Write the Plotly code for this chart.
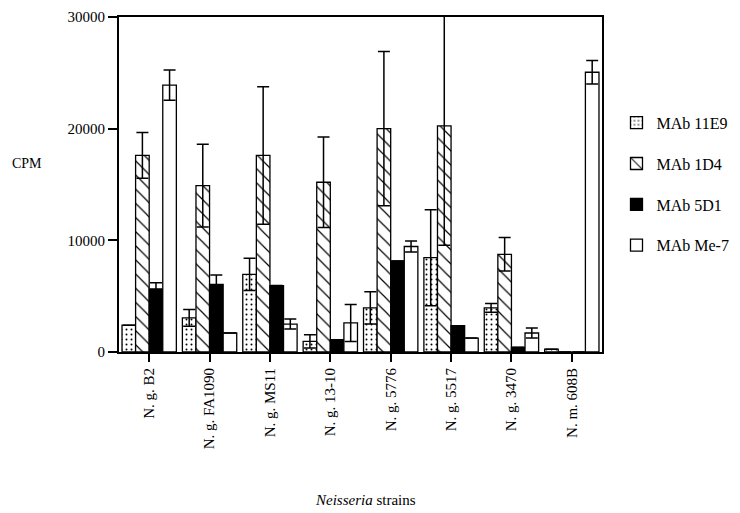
import plotly.graph_objects as go

strains = ["N. g. B2", "N. g. FA1090", "N. g. MS11", "N. g. 13-10",
           "N. g. 5776", "N. g. 5517", "N. g. 3470", "N. m. 608B"]

mab_11e9 = [2400, 3050, 6950, 950, 3950, 8450, 3950, 250]
err_11e9 = [None, 750, 1450, 600, 1450, 4300, 400, None]
mab_1d4 = [17600, 14900, 17600, 15200, 20000, 20250, 8750, 0]
err_1d4 = [2050, 3700, 6150, 4050, 6900, 10700, 1500, None]
mab_5d1 = [5650, 6050, 5950, 1100, 8150, 2350, 420, 0]
err_5d1 = [550, 850, None, None, None, None, None, None]
mab_me7 = [23900, 1700, 2500, 2600, 9450, 1250, 1700, 25050]
err_me7 = [1350, None, 450, 1650, 500, None, 450, 1050]

series = [
    ("MAb 11E9", mab_11e9, err_11e9, dict(shape=".", size=5, solidity=0.12)),
    ("MAb 1D4", mab_1d4, err_1d4, dict(shape="\\", size=10, solidity=0.12)),
    ("MAb 5D1", mab_5d1, err_5d1, None),
    ("MAb Me-7", mab_me7, err_me7, None),
]

FONT = "Liberation Serif, Times New Roman, serif"

fig = go.Figure()
for i, (name, vals, errs, pat) in enumerate(series):
    marker = dict(color="black" if name == "MAb 5D1" else "white",
                  line=dict(color="black", width=1.3))
    if pat:
        marker["pattern"] = dict(fgcolor="black", bgcolor="white",
                                 fillmode="replace", **pat)
    fig.add_trace(go.Bar(
        x=strains, y=vals, name=name, marker=marker,
        legendgroup=name,
        error_y=dict(type="data", array=errs, symmetric=True,
                     color="black", thickness=1.5, width=6),
    ))

fig.update_layout(
    width=732, height=505,
    margin=dict(l=111, r=138, t=9, b=161, autoexpand=False),
    paper_bgcolor="white", plot_bgcolor="white",
    barmode="group", bargap=0.1, bargroupgap=0,
    font=dict(family=FONT, size=15, color="black"),
    legend=dict(x=1.03, xanchor="left", y=0.735, yanchor="top",
                traceorder="grouped", tracegroupgap=17,
                font=dict(size=16, family=FONT), bgcolor="rgba(0,0,0,0)"),
    xaxis=dict(showline=True, linecolor="black", linewidth=1.8, mirror=True,
               ticks="outside", ticklen=8, tickwidth=1.5, tickcolor="black",
               tickangle=-90, showgrid=False, zeroline=False, automargin=False,
               tickfont=dict(size=15, family=FONT)),
    yaxis=dict(range=[0, 30000], tickvals=[0, 10000, 20000, 30000],
               ticktext=["0", "10000", "20000", "30000"],
               showline=True, linecolor="black", linewidth=1.8, mirror=True,
               ticks="outside", ticklen=9, tickwidth=1.5, tickcolor="black",
               showgrid=False, zeroline=False, automargin=False,
               tickfont=dict(size=15, family=FONT)),
    annotations=[
        dict(text="CPM", xref="paper", yref="paper", x=-0.226, y=0.564,
             xanchor="left", yanchor="middle", showarrow=False,
             font=dict(size=14, family=FONT)),
        dict(text="<i>Neisseria</i> strains", xref="paper", yref="paper",
             x=0.511, y=-0.442, xanchor="center", yanchor="middle",
             showarrow=False, font=dict(size=15, family=FONT)),
    ],
)

fig.write_html("out.html")
